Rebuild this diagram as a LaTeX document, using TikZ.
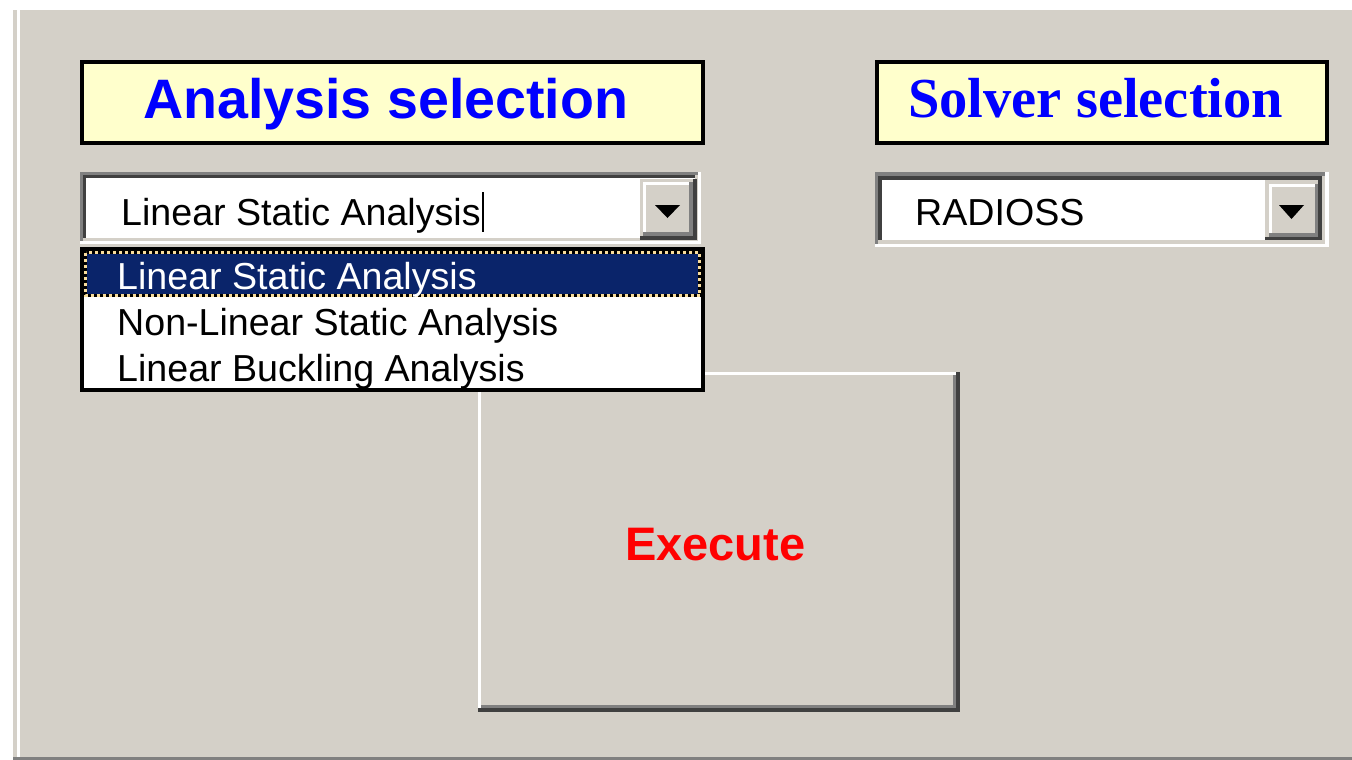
\documentclass[tikz,border=0pt]{standalone}
\usepackage{fontspec}
\setmainfont{Liberation Sans}
\newfontfamily\serifb{Liberation Serif}
\definecolor{panel}{HTML}{D4D0C8}
\definecolor{midgray}{HTML}{808080}
\definecolor{darkgray}{HTML}{404040}
\definecolor{ttlyellow}{HTML}{FFFFCC}
\definecolor{navy}{HTML}{0A246A}
\definecolor{focusdot}{HTML}{F8DC9C}
\definecolor{ttlblue}{HTML}{0000FF}
\definecolor{exred}{HTML}{FF0000}
\tikzset{
  txt/.style={inner sep=0pt, anchor=base west},
  titlebox/.style={draw=black, line width=4pt, fill=ttlyellow},
  uifont/.style={font=\fontsize{37.6}{40}\selectfont},
}
\begin{document}
\begin{tikzpicture}[x=1pt,y=-1pt]
\useasboundingbox (0,0) rectangle (1352,760);
% background
\fill[white] (0,0) rectangle (1352,760);
\fill[panel] (13,10) rectangle (17,757);
\fill[panel] (20,10) rectangle (1352,757);
\fill[midgray] (13,757) rectangle (1352,760);

% title boxes
\draw[titlebox] (82,62) rectangle (703,143);
\node[txt, text=ttlblue, font=\fontsize{55.6}{60}\selectfont\bfseries] (atitle) at (143,118) {Analysis selection};
\draw[titlebox] (877,62) rectangle (1327,143);
\node[txt, text=ttlblue, font=\fontsize{56.5}{60}\selectfont\serifb\bfseries] (stitle) at (908,117) {Solver selection};

% combo box 1
\fill[white] (80,172) rectangle (701,244);
\fill[midgray] (80,172) rectangle (698,175);
\fill[midgray] (80,172) rectangle (83,241);
\fill[darkgray] (83,175) rectangle (695,178);
\fill[darkgray] (83,175) rectangle (86,238);
\fill[panel] (83,238) rectangle (698,241);
\fill[panel] (695,175) rectangle (698,241);
% button 1
\fill[panel] (640,179) rectangle (697,240);
\fill[darkgray] (640,236) rectangle (697,240);
\fill[darkgray] (693,179) rectangle (697,240);
\fill[midgray] (643,232) rectangle (693,236);
\fill[midgray] (689,182) rectangle (693,236);
\fill[white] (643,182) rectangle (689,185);
\fill[white] (643,182) rectangle (646,232);
\fill[black] (655,205) -- (680,205) -- (667.5,218) -- cycle;
\node[txt, uifont] (combo1) at (121,225) {Linear Static Analysis};
\fill[black] (482,192) rectangle (484,232);

% combo box 2
\fill[white] (875,172) rectangle (1329,247);
\fill[midgray] (875,172) rectangle (1325,176);
\fill[midgray] (875,172) rectangle (878,244);
\fill[darkgray] (878,176) rectangle (1322,180);
\fill[darkgray] (878,176) rectangle (882,240);
\fill[panel] (878,240) rectangle (1325,244);
\fill[panel] (1322,176) rectangle (1325,244);
% button 2
\fill[panel] (1265,180) rectangle (1322,240);
\fill[darkgray] (1265,237) rectangle (1322,240);
\fill[darkgray] (1318,180) rectangle (1322,240);
\fill[midgray] (1269,233) rectangle (1318,237);
\fill[midgray] (1315,184) rectangle (1318,237);
\fill[white] (1269,184) rectangle (1315,187);
\fill[white] (1269,184) rectangle (1272,233);
\fill[black] (1279,205) -- (1304,205) -- (1291.5,219) -- cycle;
\node[txt, uifont] (combo2) at (915,225) {RADIOSS};

% execute button
\fill[white] (478,372) rectangle (960,712);
\fill[panel] (481,375) rectangle (956,708);
\fill[midgray] (953,375) rectangle (956,708);
\fill[midgray] (481,705) rectangle (956,708);
\fill[darkgray] (956,372) rectangle (960,712);
\fill[darkgray] (478,708) rectangle (960,712);
\node[txt, text=exred, font=\fontsize{47}{50}\selectfont\bfseries] (exec) at (625,560) {Execute};

% drop-down list
\draw[black, line width=4pt, fill=white] (82,249) rectangle (703,390);
\fill[navy] (84,251) rectangle (701,297);
\draw[black, line width=3pt] (85.5,252.5) rectangle (699.5,295.5);
\draw[focusdot, line width=3pt, dash pattern=on 3pt off 3pt] (85.5,252.5) rectangle (699.5,295.5);
\node[txt, uifont, text=white] (item1) at (117,289) {Linear Static Analysis};
\node[txt, uifont] (item2) at (117,335) {Non-Linear Static Analysis};
\node[txt, uifont] (item3) at (117,381) {Linear Buckling Analysis};
\end{tikzpicture}
\end{document}
